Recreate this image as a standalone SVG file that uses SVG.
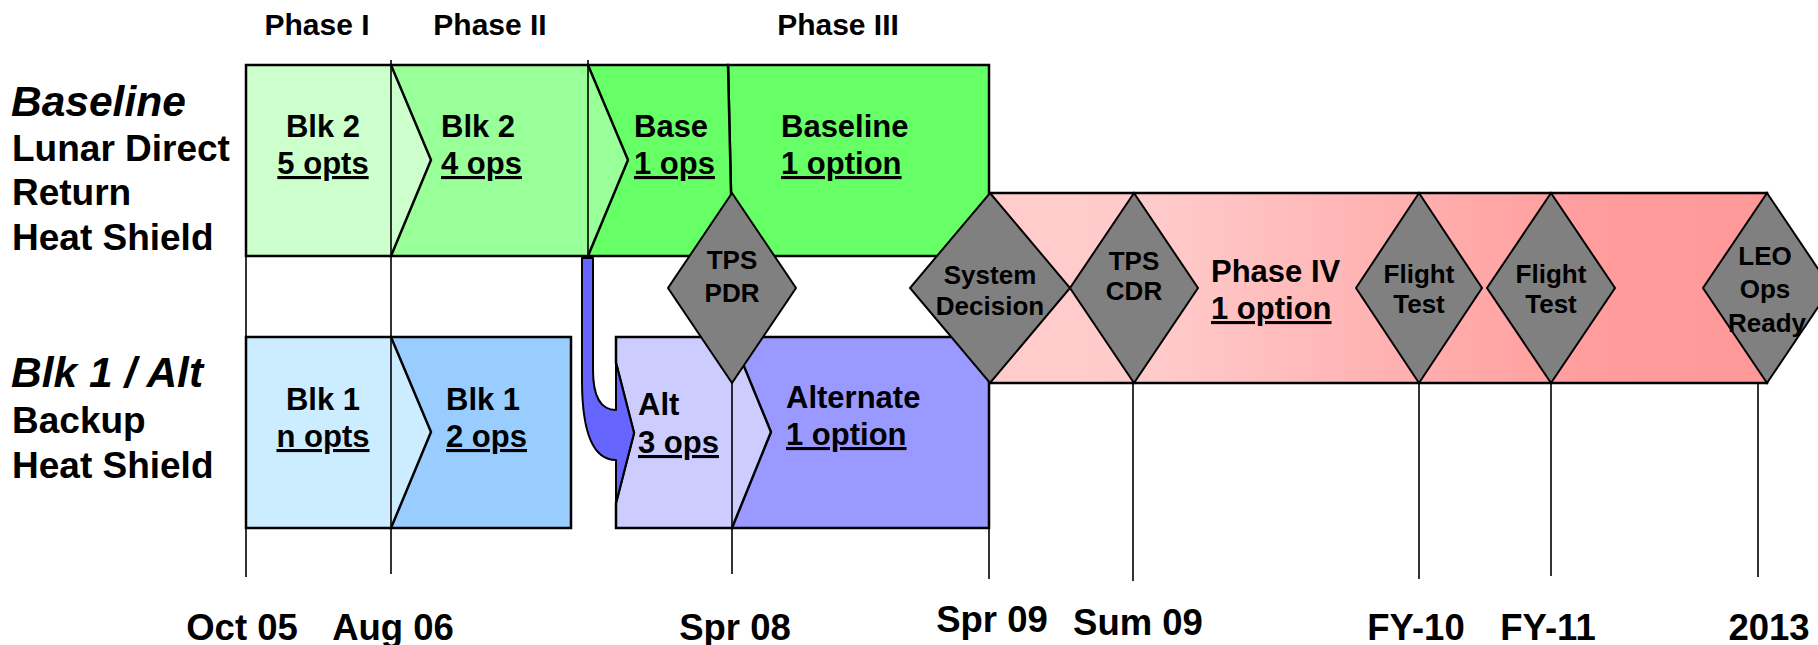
<svg xmlns="http://www.w3.org/2000/svg" width="1818" height="645" viewBox="0 0 1818 645">
<style>
text{font-family:"Liberation Sans",Arial,sans-serif;font-weight:bold;fill:#000}
.hd{font-size:30px;text-anchor:middle}
.side{font-size:37px}
.it{font-size:42.5px;font-style:italic}
.lbl{font-size:31px}
.c{text-anchor:middle}
.u{text-decoration:underline;text-decoration-thickness:3px}
.dt{font-size:26px;text-anchor:middle}
.date{font-size:36.5px;text-anchor:middle}
.box{stroke:#000;stroke-width:2.5;stroke-linejoin:miter}
.dia{fill:#808080;stroke:#000;stroke-width:2}
.grid{stroke:#000;stroke-width:1.6;fill:none}
</style>
<defs>
<linearGradient id="pink" gradientUnits="userSpaceOnUse" x1="990" y1="0" x2="1767" y2="0">
<stop offset="0" stop-color="#FFCCCC"/>
<stop offset="0.22" stop-color="#FFCACA"/>
<stop offset="0.55" stop-color="#FFAEAE"/>
<stop offset="0.78" stop-color="#FF9C9C"/>
<stop offset="1" stop-color="#FF9999"/>
</linearGradient>
</defs>
<rect width="1818" height="645" fill="#fff"/>
<g id="headers">
<text class="hd" x="317" y="35">Phase I</text>
<text class="hd" x="490" y="35">Phase II</text>
<text class="hd" x="838" y="35">Phase III</text>
</g>
<g id="row-labels">
<text class="it" x="11" y="116">Baseline</text>
<text class="side" x="12" y="161">Lunar Direct</text>
<text class="side" x="12" y="205">Return</text>
<text class="side" x="12" y="250">Heat Shield</text>
<text class="it" x="11" y="387">Blk 1 / Alt</text>
<text class="side" x="12" y="433">Backup</text>
<text class="side" x="12" y="478">Heat Shield</text>
</g>
<g id="phase4">
<rect class="box" x="989" y="193" width="778" height="190" fill="url(#pink)"/>
<text class="lbl" x="1211" y="282">Phase IV</text>
<text class="lbl u" x="1211" y="319">1 option</text>
</g>
<g id="baseline-1option">
<polygon class="box" points="728,65 989,65 989,256 732,256 731,193" fill="#66FF66"/>
<text class="lbl" x="781" y="137">Baseline</text>
<text class="lbl u" x="781" y="174">1 option</text>
</g>
<g id="base-1ops">
<polygon class="box" points="588,65 728,65 731,193 732,256 588,256" fill="#66FF66"/>
<text class="lbl" x="634" y="137">Base</text>
<text class="lbl u" x="634" y="174">1 ops</text>
</g>
<g id="blk2-4ops">
<polygon class="box" points="391,65 588,65 628,160 588,256 391,256" fill="#99FF99"/>
<text class="lbl" x="441" y="137">Blk 2</text>
<text class="lbl u" x="441" y="174">4 ops</text>
</g>
<g id="blk2-5opts">
<polygon class="box" points="246,65 391,65 431,160 391,256 246,256" fill="#CCFFCC"/>
<text class="lbl c" x="323" y="137">Blk 2</text>
<text class="lbl c u" x="323" y="174">5 opts</text>
</g>
<g id="blk1-2ops">
<polygon class="box" points="391,337 571,337 571,528 391,528" fill="#99CCFF"/>
<text class="lbl" x="446" y="410">Blk 1</text>
<text class="lbl u" x="446" y="447">2 ops</text>
</g>
<g id="blk1-nopts">
<polygon class="box" points="246,337 391,337 431,432 391,528 246,528" fill="#CCECFF"/>
<text class="lbl c" x="323" y="410">Blk 1</text>
<text class="lbl c u" x="323" y="447">n opts</text>
</g>
<g id="alternate-1option">
<polygon class="box" points="732,337 989,337 989,528 732,528" fill="#9999FF"/>
<text class="lbl" x="786" y="408">Alternate</text>
<text class="lbl u" x="786" y="445">1 option</text>
</g>
<g id="alt-3ops">
<polygon class="box" points="616,337 732,337 771,432 732,528 616,528 616,503 634,433 616,363" fill="#CCCCFF"/>
<text class="lbl" x="638" y="415">Alt</text>
<text class="lbl u" x="638" y="453">3 ops</text>
</g>
<g id="connectors">
<line class="grid" x1="246" y1="65" x2="246" y2="577"/>
<line class="grid" x1="391" y1="60" x2="391" y2="574"/>
<line class="grid" x1="588" y1="60" x2="588" y2="256"/>
<line class="grid" x1="732" y1="337" x2="732" y2="574"/>
<line class="grid" x1="989" y1="528" x2="989" y2="579"/>
<line class="grid" x1="1133" y1="383" x2="1133" y2="581"/>
<line class="grid" x1="1419" y1="383" x2="1419" y2="579"/>
<line class="grid" x1="1551" y1="383" x2="1551" y2="576"/>
<line class="grid" x1="1758" y1="383" x2="1758" y2="577"/>
<path d="M582,258 L593,258 L593,370 Q593,410 616,410 L616,363 L634,433 L616,503 L616,460 Q582,460 582,380 Z" fill="#6666FF" stroke="#000" stroke-width="2" stroke-linejoin="round"/>
</g>
<g id="tps-pdr">
<polygon class="dia" points="732,193 796,288 732,383 668,288"/>
<text class="dt" x="732" y="269">TPS</text>
<text class="dt" x="732" y="302">PDR</text>
</g>
<g id="system-decision">
<polygon class="dia" points="990,193 1070,288 990,383 910,288"/>
<text class="dt" x="990" y="284">System</text>
<text class="dt" x="990" y="315">Decision</text>
</g>
<g id="tps-cdr">
<polygon class="dia" points="1134,193 1198,288 1134,383 1070,288"/>
<text class="dt" x="1134" y="270">TPS</text>
<text class="dt" x="1134" y="300">CDR</text>
</g>
<g id="flight-test-1">
<polygon class="dia" points="1419,193 1482,288 1419,383 1356,288"/>
<text class="dt" x="1419" y="283">Flight</text>
<text class="dt" x="1419" y="313">Test</text>
</g>
<g id="flight-test-2">
<polygon class="dia" points="1551,193 1615,288 1551,383 1487,288"/>
<text class="dt" x="1551" y="283">Flight</text>
<text class="dt" x="1551" y="313">Test</text>
</g>
<g id="leo-ops-ready">
<polygon class="dia" points="1767,193 1831,288 1767,383 1703,288"/>
<text class="dt" x="1765" y="265">LEO</text>
<text class="dt" x="1765" y="298">Ops</text>
<text class="dt" x="1767" y="332">Ready</text>
</g>
<g id="dates">
<text class="date" x="242" y="640">Oct 05</text>
<text class="date" x="393" y="640">Aug 06</text>
<text class="date" x="735" y="640">Spr 08</text>
<text class="date" x="992" y="632">Spr 09</text>
<text class="date" x="1138" y="635">Sum 09</text>
<text class="date" x="1416" y="640">FY-10</text>
<text class="date" x="1548" y="640">FY-11</text>
<text class="date" x="1769" y="640">2013</text>
</g>
</svg>
